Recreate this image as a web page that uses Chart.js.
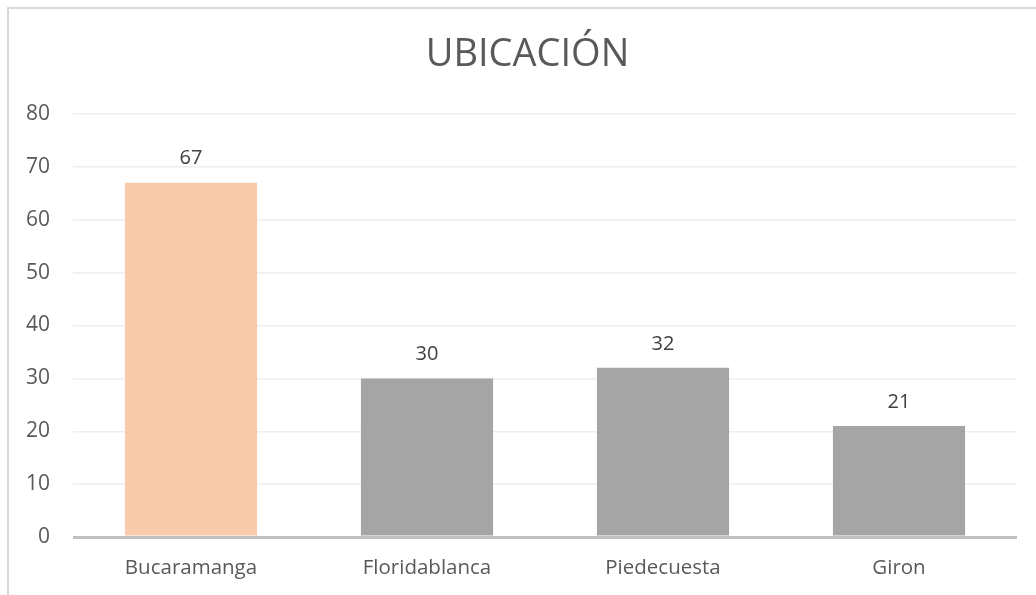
<!DOCTYPE html>
<html>
<head>
<meta charset="utf-8">
<script src="https://cdn.jsdelivr.net/npm/chart.js@4.4.1/dist/chart.umd.min.js"></script>
<style>
  html, body { margin: 0; padding: 0; background: #fff; overflow: hidden; }
  #marco { position: absolute; left: 7px; top: 7px; width: 1100px; height: 650px; border: 2px solid #d9d9d9; }
  #lienzo { position: absolute; left: 0; top: 0; width: 1036px; height: 595px; }
</style>
</head>
<body>
<div id="marco"></div>
<div id="lienzo"><canvas id="chartUbicacion" width="1036" height="595"></canvas></div>
<script>
var ciudades = ['Bucaramanga', 'Floridablanca', 'Piedecuesta', 'Giron'];
var cantidades = [67, 30, 32, 21];
var colores = ['#f8cbad', '#a5a5a5', '#a5a5a5', '#a5a5a5'];
var ticksY = [0, 10, 20, 30, 40, 50, 60, 70, 80];

var fuente = "'Open Sans', 'Liberation Sans', sans-serif";

// etiquetas de valor encima de cada barra
var etiquetasValor = {
    id: 'etiquetasValor',
    afterLayout: function (chart) {
        // centrar el titulo como en el original (un poco a la derecha)
        var t = chart.titleBlock;
        if (t) { t.left = 19; t.right = 1036; }
    },
    afterDatasetsDraw: function (chart) {
        var ctx = chart.ctx;
        var meta = chart.getDatasetMeta(0);
        ctx.save();
        ctx.font = '20px ' + fuente;
        ctx.fillStyle = '#404040';
        ctx.textAlign = 'center';
        ctx.textBaseline = 'middle';
        meta.data.forEach(function (barra, i) {
            ctx.fillText(chart.data.datasets[0].data[i], barra.x, barra.y - 24);
        });
        ctx.restore();
    }
};

new Chart(document.getElementById('chartUbicacion'), {
    type: 'bar',
    data: {
        labels: ciudades,
        datasets: [{
            label: 'UBICACIÓN',
            data: cantidades,
            backgroundColor: colores,
            borderWidth: 0,
            barPercentage: 0.56,
            categoryPercentage: 1
        }]
    },
    options: {
        responsive: false,
        animation: false,
        layout: {
            padding: { top: 0, right: 19, bottom: 0, left: 0 }
        },
        plugins: {
            legend: { display: false },
            tooltip: { enabled: false },
            title: {
                display: true,
                text: 'UBICACIÓN',
                color: '#595959',
                font: { family: fuente, size: 38, weight: 'normal', lineHeight: 1.2 },
                padding: { top: 32, bottom: 36.4 }
            }
        },
        scales: {
            x: {
                grid: { display: false },
                border: { display: false },
                ticks: {
                    color: '#595959',
                    font: { family: fuente, size: 20.5 },
                    padding: 11
                },
                afterFit: function (scale) { scale.height = 58; }
            },
            y: {
                min: 0,
                max: 80,
                afterBuildTicks: function (scale) {
                    scale.ticks = ticksY.map(function (v) { return { value: v }; });
                },
                border: { display: false },
                grid: {
                    drawTicks: false,
                    color: function (c) { return c.tick && c.tick.value === 0 ? '#bfbfbf' : '#eeeeee'; },
                    lineWidth: function (c) { return c.tick && c.tick.value === 0 ? 3 : 1.5; }
                },
                ticks: {
                    color: '#595959',
                    font: { family: fuente, size: 21 },
                    padding: 23
                },
                afterFit: function (scale) { scale.width = 73; }
            }
        }
    },
    plugins: [etiquetasValor]
});
</script>
</body>
</html>
